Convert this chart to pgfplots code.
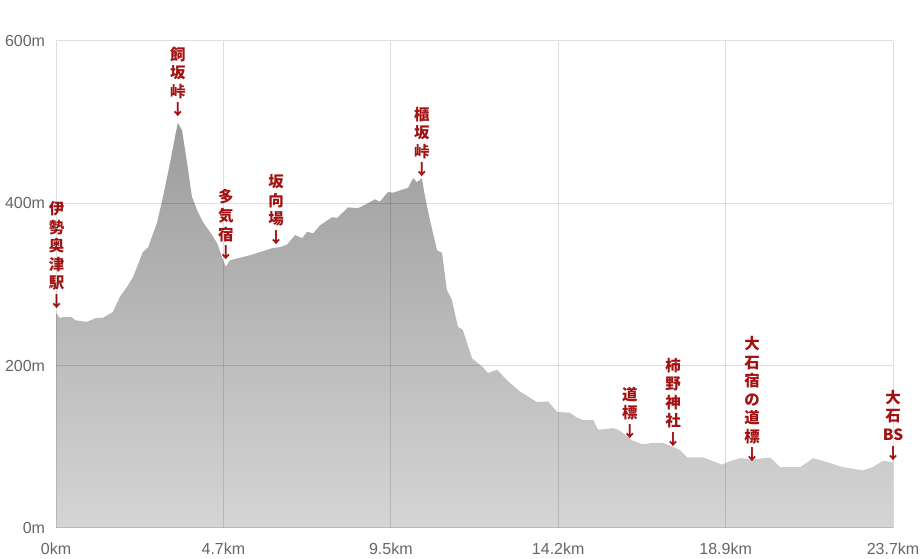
\documentclass[border=0pt]{standalone}
\usepackage{fontspec}
\setmainfont{Liberation Sans}
\newfontfamily\cjk{Noto Sans CJK JP}
\usepackage{pgfplots}
\pgfplotsset{compat=1.18}

\definecolor{ticktext}{HTML}{666666}
\definecolor{labred}{HTML}{A31212}
\definecolor{filltop}{HTML}{9C9C9C}
\definecolor{fillbot}{HTML}{D5D5D5}

\begin{document}
\begin{tikzpicture}[
    lab/.style={anchor=south, align=center, inner sep=0pt, text=labred,
                font=\cjk\bfseries\fontsize{11.6}{13.9}\selectfont}]
\begin{axis}[
    scale only axis,
    width=627.75pt, height=365.25pt,
    xmin=0, xmax=23.7, ymin=0, ymax=600,
    xtick={0,4.74,9.48,14.22,18.96,23.7},
    xticklabels={0km,4.7km,9.5km,14.2km,18.9km,23.7km},
    ytick={0,200,400,600},
    yticklabels={0m,200m,400m,600m},
    major tick length=0pt,
    axis line style={draw=none},
    grid=major,
    major grid style={black, opacity=0.13, line width=0.75pt},
    axis on top,
    clip=false,
    tick label style={font=\fontsize{12}{13}\selectfont, text=ticktext},
    xticklabel style={inner sep=0pt, anchor=north, yshift=-10.75pt},
    yticklabel style={inner sep=0pt, anchor=east, xshift=-8pt},
]
\addplot[draw=none, top color=filltop, bottom color=fillbot] coordinates {
 (0,265) (0.11,259) (0.25,260) (0.44,260) (0.54,256) (0.87,254) (1.15,259)
 (1.33,259) (1.61,266) (1.81,285) (2.01,297) (2.18,309) (2.46,340) (2.61,346)
 (2.86,376) (3.03,408) (3.23,450) (3.37,482) (3.45,499) (3.57,490) (3.71,450)
 (3.85,408) (3.99,392) (4.16,377) (4.42,361) (4.56,351) (4.70,334) (4.81,322)
 (4.93,330) (5.21,333) (5.49,336) (5.78,340) (6.14,345) (6.34,346) (6.54,349)
 (6.77,361) (6.97,357) (7.11,365) (7.28,363) (7.48,373) (7.82,383) (7.96,382)
 (8.27,395) (8.55,394) (8.83,400) (9.03,405) (9.17,402) (9.40,414) (9.54,413)
 (9.74,416) (9.97,419) (10.11,431) (10.22,426) (10.36,431) (10.45,408)
 (10.59,379) (10.79,342) (10.93,339) (11.07,293) (11.21,281) (11.38,248)
 (11.52,244) (11.78,209) (12.09,198) (12.23,191) (12.49,195) (12.77,182)
 (13.14,168) (13.51,158) (13.62,155) (13.93,156) (14.19,143) (14.55,142)
 (14.75,136) (14.92,133) (15.21,133) (15.35,121) (15.77,123) (15.91,121)
 (16.06,117) (16.31,108) (16.62,103) (16.90,105) (17.19,105) (17.67,96)
 (17.87,87) (18.32,87) (18.86,78) (19.00,81) (19.37,86) (19.85,85) (20.22,87)
 (20.50,75) (21.07,75) (21.44,86) (21.92,80) (22.28,75) (22.85,71) (23.13,75)
 (23.42,83) (23.70,81)
} \closedcycle;

\node[lab] at (axis cs:0.02,270)  {伊\\勢\\奥\\津\\駅\\↓};
\node[lab] at (axis cs:3.45,506)  {飼\\坂\\峠\\↓};
\node[lab] at (axis cs:4.81,330)  {多\\気\\宿\\↓};
\node[lab] at (axis cs:6.23,349)  {坂\\向\\場\\↓};
\node[lab] at (axis cs:10.36,432) {櫃\\坂\\峠\\↓};
\node[lab] at (axis cs:16.25,110) {道\\標\\↓};
\node[lab] at (axis cs:17.47,100) {柿\\野\\神\\社\\↓};
\node[lab] at (axis cs:19.71,81)  {大\\石\\宿\\の\\道\\標\\↓};
\node[lab] at (axis cs:23.70,83)  {大\\石\\BS\\↓};
\end{axis}
\pgfresetboundingbox
\path ([xshift=-42pt,yshift=-23.25pt]current axis.south west)
  rectangle ([xshift=22.5pt,yshift=30.75pt]current axis.north east);
\end{tikzpicture}
\end{document}
